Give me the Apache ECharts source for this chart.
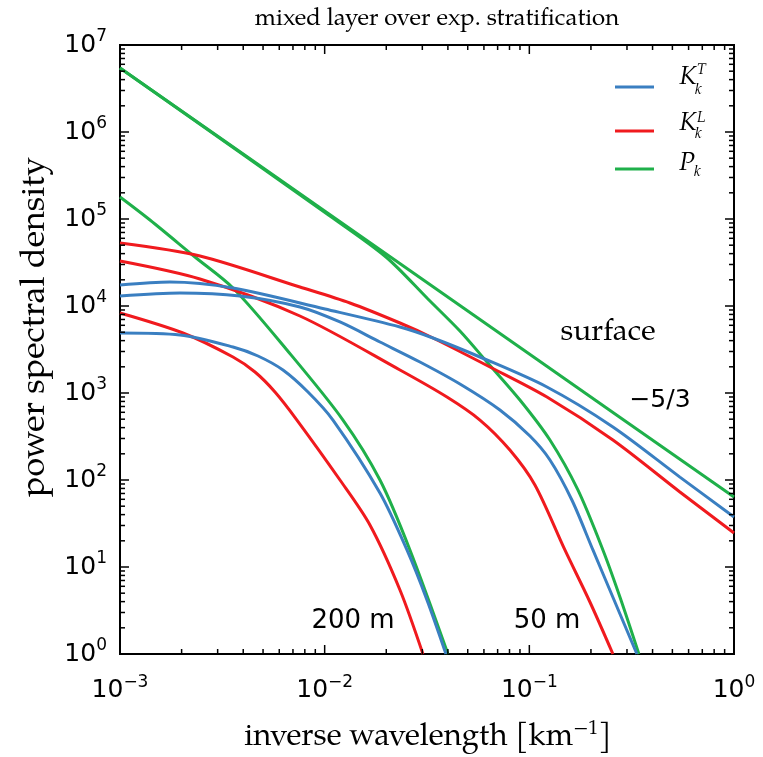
<!DOCTYPE html>
<html>
<head>
<meta charset="utf-8">
<script src="https://cdn.jsdelivr.net/npm/echarts@6/dist/echarts.min.js"></script>
<style>
  html, body { margin: 0; padding: 0; background: #fff; }
  #chart { width: 763px; height: 757px; }
</style>
</head>
<body>
<div id="chart"></div>
<script>
// Spectra: [inverse wavelength (1/km), power spectral density]
// surface
const pSurface  = [[1e-3, 5.44e6], [1e-2, 1.236e5], [1e-1, 2810], [1, 63.8]];
const ktSurface = [[1e-3, 17440], [1.754e-3, 18880], [3.565e-3, 16100], [0.01004, 9237], [0.02333, 5737],
                   [0.03382, 4288], [0.05738, 2593], [0.1219, 1172], [0.2561, 407], [0.5441, 108], [1, 37.6]];
const klSurface = [[1e-3, 53000], [2.459e-3, 37550], [7.57e-3, 16530], [0.01329, 10830], [0.02333, 6376],
                   [0.03382, 4288], [0.06419, 1991], [0.1219, 899], [0.2561, 288], [0.5441, 72.8], [1, 24.6]];
// 50 m depth
const p50  = [[1e-3, 5.44e6], [0.01061, 1.083e5], [0.01993, 36580], [0.03196, 12040], [0.04581, 5160],
              [0.06208, 2272], [0.08996, 831], [0.1261, 288], [0.1727, 76.8], [0.2288, 15.7],
              [0.2771, 4.52], [0.343, 1]];
const kt50 = [[1e-3, 13030], [1.964e-3, 14110], [3.857e-3, 13030], [7.57e-3, 9740], [0.01188, 6548],
              [0.01863, 3856], [0.02921, 2272], [0.04581, 1269], [0.07184, 638], [0.1007, 320], [0.1261, 170],
              [0.1614, 58.9], [0.2045, 15.7], [0.2619, 3.96], [0.3354, 1]];
const kl50 = [[1e-3, 32900], [2.459e-3, 20430], [7.57e-3, 7675], [0.02333, 1838], [0.03958, 899],
              [0.05738, 489], [0.08037, 221], [0.1065, 87.6], [0.1492, 15.7], [0.1977, 3.96], [0.2561, 1]];
// 200 m depth
const p200  = [[1e-3, 1.79e5], [1.401e-3, 97400], [2.324e-3, 36580], [3.565e-3, 16100], [6.54e-3, 3121],
               [0.01229, 489], [0.01863, 100], [0.0261, 15.7], [0.04003, 1]];
const kt200 = [[1e-3, 4894], [1.964e-3, 4642], [3.565e-3, 3379], [4.723e-3, 2663], [6.255e-3, 1838],
               [8.288e-3, 1027], [0.01098, 489], [0.01863, 70.9], [0.02524, 15.7], [0.03161, 4.18], [0.03914, 1]];
const kl200 = [[1e-3, 8310], [2.03e-3, 4894], [3.565e-3, 2593], [4.566e-3, 1743], [5.718e-3, 1027],
               [7.32e-3, 489], [0.01188, 100], [0.01664, 30.4], [0.02333, 5.44], [0.03021, 1]];

const BLUE = '#3a7fc1', RED = '#f01a1e', GREEN = '#1fb04a';
const SERIF = '"TeX Gyre Pagella", "Palatino Linotype", Palatino, "DejaVu Serif", serif';
const SANS = '"DejaVu Sans", sans-serif';

const chart = echarts.init(document.getElementById('chart'), null, { renderer: 'canvas' });

// Tick marks (major at decades, minor at 2..9) drawn inward on all four sides
const tickData = [];
for (let e = -3; e <= 0; e++) {
  for (let m = 1; m <= 9; m++) {
    const v = m * Math.pow(10, e);
    tickData.push([v, 1, 0, m === 1 ? 1 : 0]);
    tickData.push([v, 1, 1, m === 1 ? 1 : 0]);
    if (e === 0) break;
  }
}
for (let e = 0; e <= 7; e++) {
  for (let m = 1; m <= 9; m++) {
    const v = m * Math.pow(10, e);
    tickData.push([1e-3, v, 2, m === 1 ? 1 : 0]);
    tickData.push([1e-3, v, 3, m === 1 ? 1 : 0]);
    if (e === 7) break;
  }
}

function supLabel(exp) {
  const s = exp < 0 ? '\u2212' + (-exp) : String(exp);
  return '{b|10}{s|' + s + '}';
}

const tickRich = {
  b: { fontFamily: SANS, fontSize: 25, color: '#000' },
  s: { fontFamily: SANS, fontSize: 17, color: '#000', padding: [0, 0, 16, 0] }
};

function line(name, data, color) {
  return {
    type: 'line', name, data, showSymbol: false, symbol: 'none',
    smooth: 0.3, clip: true,
    lineStyle: { color, width: 3 }, itemStyle: { color },
    z: 3, silent: true
  };
}

const option = {
  animation: false,
  backgroundColor: '#fff',
  title: {
    text: 'mixed layer over exp. stratification',
    left: 432, top: 3, textAlign: 'center',
    textStyle: { fontFamily: SERIF, fontSize: 24, fontWeight: 'normal', color: '#000' }
  },
  grid: {
    left: 120, top: 45, width: 614, height: 609,
    show: true, borderColor: '#000', borderWidth: 2, backgroundColor: 'transparent'
  },
  xAxis: {
    type: 'log', logBase: 10, min: 1e-3, max: 1,
    axisLine: { show: false }, axisTick: { show: false }, splitLine: { show: false },
    axisLabel: {
      margin: 20,
      formatter: v => supLabel(Math.round(Math.log10(v))),
      rich: tickRich
    }
  },
  yAxis: {
    type: 'log', logBase: 10, min: 1, max: 1e7,
    axisLine: { show: false }, axisTick: { show: false }, splitLine: { show: false },
    axisLabel: {
      margin: 13,
      formatter: v => supLabel(Math.round(Math.log10(v))),
      rich: tickRich
    }
  },
  series: [
    line('surface P', pSurface, GREEN),
    line('50 m P', p50, GREEN),
    line('200 m P', p200, GREEN),
    line('surface KL', klSurface, RED),
    line('50 m KL', kl50, RED),
    line('200 m KL', kl200, RED),
    line('surface KT', ktSurface, BLUE),
    line('50 m KT', kt50, BLUE),
    line('200 m KT', kt200, BLUE),
    {
      type: 'custom', name: 'ticks', data: tickData, clip: false, silent: true, z: 5,
      encode: { x: 0, y: 1 },
      renderItem: function (params, api) {
        const cs = params.coordSys;
        const p = api.coord([api.value(0), api.value(1)]);
        const side = api.value(2);
        const len = api.value(3) ? 9 : 5;
        let s;
        if (side === 0) s = { x1: p[0], y1: cs.y + cs.height, x2: p[0], y2: cs.y + cs.height - len };
        else if (side === 1) s = { x1: p[0], y1: cs.y, x2: p[0], y2: cs.y + len };
        else if (side === 2) s = { x1: cs.x, y1: p[1], x2: cs.x + len, y2: p[1] };
        else s = { x1: cs.x + cs.width, y1: p[1], x2: cs.x + cs.width - len, y2: p[1] };
        return { type: 'line', shape: s, style: { stroke: '#000', lineWidth: 1.5 } };
      }
    }
  ],
  graphic: [
    // axis titles
    {
      type: 'text', x: 428, y: 738,
      style: {
        text: '{t|inverse wavelength [km}{s|\u22121}{t|]}',
        textAlign: 'center', textVerticalAlign: 'middle',
        rich: {
          t: { fontFamily: SERIF, fontSize: 31, fill: '#000' },
          s: { fontFamily: SERIF, fontSize: 20, fill: '#000', padding: [0, 0, 16, 0] }
        }
      }
    },
    {
      type: 'text', x: 36, y: 327, rotation: Math.PI / 2,
      style: { text: 'power spectral density', font: '34px ' + SERIF, fill: '#000', textAlign: 'center', textVerticalAlign: 'middle' }
    },
    // legend
    { type: 'line', shape: { x1: 615, y1: 87, x2: 654, y2: 87 }, style: { stroke: BLUE, lineWidth: 3 } },
    { type: 'line', shape: { x1: 615, y1: 131, x2: 654, y2: 131 }, style: { stroke: RED, lineWidth: 3 } },
    { type: 'line', shape: { x1: 615, y1: 169, x2: 654, y2: 169 }, style: { stroke: GREEN, lineWidth: 3 } },
    { type: 'text', x: 679, y: 78, style: { text: 'K', font: 'italic 26px ' + SERIF, fill: '#000', textVerticalAlign: 'middle' } },
    { type: 'text', x: 697, y: 71, style: { text: 'T', font: 'italic 15px ' + SERIF, fill: '#000', textVerticalAlign: 'middle' } },
    { type: 'text', x: 695, y: 91, style: { text: 'k', font: 'italic 15px ' + SERIF, fill: '#000', textVerticalAlign: 'middle' } },
    { type: 'text', x: 679, y: 124, style: { text: 'K', font: 'italic 26px ' + SERIF, fill: '#000', textVerticalAlign: 'middle' } },
    { type: 'text', x: 697, y: 119, style: { text: 'L', font: 'italic 15px ' + SERIF, fill: '#000', textVerticalAlign: 'middle' } },
    { type: 'text', x: 695, y: 135, style: { text: 'k', font: 'italic 15px ' + SERIF, fill: '#000', textVerticalAlign: 'middle' } },
    { type: 'text', x: 679, y: 164, style: { text: 'P', font: 'italic 26px ' + SERIF, fill: '#000', textVerticalAlign: 'middle' } },
    { type: 'text', x: 694, y: 173, style: { text: 'k', font: 'italic 15px ' + SERIF, fill: '#000', textVerticalAlign: 'middle' } },
    // annotations
    { type: 'text', x: 608, y: 333, style: { text: 'surface', font: '30px ' + SERIF, fill: '#000', textAlign: 'center', textVerticalAlign: 'middle' } },
    { type: 'text', x: 660, y: 400, style: { text: '\u22125/3', font: '25px ' + SANS, fill: '#000', textAlign: 'center', textVerticalAlign: 'middle' } },
    { type: 'text', x: 353, y: 621, style: { text: '200 m', font: '26px ' + SANS, fill: '#000', textAlign: 'center', textVerticalAlign: 'middle' } },
    { type: 'text', x: 547, y: 621, style: { text: '50 m', font: '26px ' + SANS, fill: '#000', textAlign: 'center', textVerticalAlign: 'middle' } }
  ]
};

chart.setOption(option);
</script>
</body>
</html>
